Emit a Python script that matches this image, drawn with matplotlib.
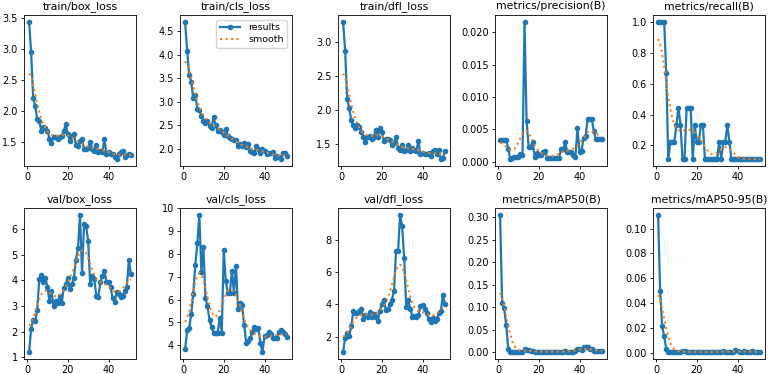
import numpy as np
import matplotlib
matplotlib.use('Agg')
import matplotlib.pyplot as plt

epochs = np.arange(1, 52)

titles = ['train/box_loss', 'train/cls_loss', 'train/dfl_loss', 'metrics/precision(B)', 'metrics/recall(B)',
          'val/box_loss', 'val/cls_loss', 'val/dfl_loss', 'metrics/mAP50(B)', 'metrics/mAP50-95(B)']

train_box_loss = [3.43, 2.94, 2.20, 2.08, 1.86, 1.83, 1.68, 1.73, 1.72, 1.68,
                  1.55, 1.48, 1.58, 1.58, 1.55, 1.58, 1.60, 1.68, 1.78, 1.62,
                  1.52, 1.60, 1.62, 1.45, 1.43, 1.52, 1.55, 1.38, 1.38, 1.40,
                  1.50, 1.38, 1.35, 1.45, 1.33, 1.35, 1.33, 1.55, 1.30, 1.33,
                  1.30, 1.30, 1.25, 1.22, 1.30, 1.33, 1.35, 1.25, 1.28, 1.30, 1.28]
train_cls_loss = [4.70, 4.09, 3.57, 3.43, 3.07, 3.15, 2.85, 2.82, 2.70, 2.60,
                  2.55, 2.60, 2.48, 2.45, 2.67, 2.50, 2.38, 2.40, 2.35, 2.30,
                  2.42, 2.28, 2.22, 2.20, 2.18, 2.18, 2.05, 2.10, 2.05, 2.12,
                  2.03, 2.10, 1.95, 1.93, 1.92, 2.05, 2.00, 1.92, 2.00, 1.95,
                  1.88, 1.90, 1.90, 1.93, 1.80, 1.85, 1.82, 1.78, 1.92, 1.90, 1.85]
train_dfl_loss = [3.29, 2.87, 2.16, 2.03, 1.85, 1.78, 1.73, 1.78, 1.75, 1.68,
                  1.60, 1.53, 1.60, 1.62, 1.58, 1.60, 1.70, 1.60, 1.73, 1.68,
                  1.55, 1.57, 1.58, 1.56, 1.48, 1.52, 1.60, 1.45, 1.42, 1.48,
                  1.40, 1.42, 1.48, 1.40, 1.45, 1.42, 1.40, 1.55, 1.35, 1.37,
                  1.35, 1.35, 1.37, 1.33, 1.40, 1.42, 1.35, 1.42, 1.28, 1.30, 1.40]
precision = [0.0033, 0.0033, 0.0033, 0.0033, 0.0020, 0.0004, 0.0006, 0.0007, 0.0007, 0.0008,
             0.0012, 0.0010, 0.0216, 0.0063, 0.0023, 0.0023, 0.0030, 0.0008, 0.0013, 0.0010,
             0.0011, 0.0015, 0.0017, 0.0006, 0.0006, 0.0006, 0.0006, 0.0006, 0.0006, 0.0006,
             0.0020, 0.0020, 0.0030, 0.0015, 0.0015, 0.0015, 0.0010, 0.0008, 0.0052, 0.0015,
             0.0017, 0.0037, 0.0040, 0.0066, 0.0066, 0.0066, 0.0048, 0.0035, 0.0035, 0.0035, 0.0035]
recall = [1.0, 1.0, 1.0, 1.0, 0.667, 0.111, 0.222, 0.222, 0.222, 0.333,
          0.444, 0.333, 0.111, 0.111, 0.444, 0.444, 0.444, 0.111, 0.333, 0.222,
          0.222, 0.333, 0.333, 0.111, 0.111, 0.111, 0.111, 0.111, 0.111, 0.111,
          0.222, 0.111, 0.222, 0.222, 0.333, 0.222, 0.111, 0.111, 0.111, 0.111,
          0.111, 0.111, 0.111, 0.111, 0.111, 0.111, 0.111, 0.111, 0.111, 0.111, 0.111]
val_box_loss = [1.20, 2.10, 2.45, 2.40, 2.85, 4.05, 4.20, 3.95, 4.10, 3.75,
                3.20, 3.60, 3.00, 3.20, 3.10, 3.40, 3.10, 3.70, 3.85, 4.10,
                3.65, 3.85, 4.10, 4.80, 5.25, 6.55, 4.30, 6.20, 6.10, 5.55,
                3.85, 4.15, 4.05, 3.40, 3.35, 3.95, 4.15, 4.35, 3.95, 3.95,
                3.75, 3.30, 3.15, 3.55, 3.45, 3.35, 3.40, 3.60, 3.75, 4.80, 4.25]
val_cls_loss = [3.82, 4.65, 4.75, 5.35, 6.25, 7.50, 8.45, 9.70, 7.20, 8.30,
                6.05, 5.70, 5.10, 4.80, 4.55, 4.55, 4.55, 5.20, 4.55, 8.15,
                6.80, 6.30, 6.30, 7.25, 6.30, 7.45, 5.60, 5.85, 5.75, 4.90,
                4.10, 4.20, 4.30, 4.60, 4.80, 4.70, 4.75, 4.10, 3.70, 4.40,
                4.45, 4.60, 4.50, 4.30, 4.30, 4.30, 4.60, 4.65, 4.60, 4.50, 4.35]
val_dfl_loss = [1.05, 1.95, 2.25, 2.05, 2.65, 3.60, 3.50, 3.45, 3.60, 3.70,
                3.10, 3.35, 3.20, 3.55, 3.25, 3.40, 3.25, 2.95, 3.60, 4.00,
                4.30, 3.65, 3.75, 4.00, 4.30, 4.85, 7.30, 7.30, 9.55, 8.85,
                6.85, 3.85, 4.25, 3.75, 3.25, 3.30, 3.20, 3.35, 3.90, 3.95,
                3.75, 3.50, 3.10, 2.90, 3.15, 3.00, 3.10, 3.45, 3.60, 4.60, 4.05]
map50 = [0.305, 0.110, 0.098, 0.060, 0.008, 0.000, 0.001, 0.001, 0.001, 0.001,
         0.001, 0.001, 0.006, 0.005, 0.004, 0.003, 0.002, 0.001, 0.001, 0.001,
         0.001, 0.001, 0.001, 0.001, 0.001, 0.001, 0.001, 0.001, 0.001, 0.001,
         0.001, 0.001, 0.002, 0.001, 0.001, 0.001, 0.001, 0.002, 0.007, 0.006,
         0.004, 0.011, 0.012, 0.011, 0.007, 0.007, 0.003, 0.002, 0.002, 0.002, 0.002]
map50_95 = [0.111, 0.050, 0.021, 0.013, 0.003, 0.0003, 0.0004, 0.0004, 0.0005, 0.0005,
            0.0005, 0.0006, 0.0015, 0.0010, 0.0006, 0.0005, 0.0004, 0.0004, 0.0004, 0.0004,
            0.0004, 0.0005, 0.0008, 0.0004, 0.0004, 0.0004, 0.0004, 0.0004, 0.0004, 0.0005,
            0.0005, 0.0006, 0.0012, 0.0005, 0.0005, 0.0004, 0.0004, 0.0006, 0.0020, 0.0010,
            0.0006, 0.0008, 0.0012, 0.0008, 0.0006, 0.0005, 0.0010, 0.0005, 0.0005, 0.0004, 0.0004]

series = [train_box_loss, train_cls_loss, train_dfl_loss, precision, recall,
          val_box_loss, val_cls_loss, val_dfl_loss, map50, map50_95]

yticks = [[1.5, 2.0, 2.5, 3.0, 3.5],
          [2.0, 2.5, 3.0, 3.5, 4.0, 4.5],
          [1.5, 2.0, 2.5, 3.0],
          [0.000, 0.005, 0.010, 0.015, 0.020],
          [0.2, 0.4, 0.6, 0.8, 1.0],
          [1, 2, 3, 4, 5, 6],
          [4, 5, 6, 7, 8, 9, 10],
          [2, 4, 6, 8],
          [0.00, 0.05, 0.10, 0.15, 0.20, 0.25, 0.30],
          [0.00, 0.02, 0.04, 0.06, 0.08, 0.10]]
yfmt = ['%.1f', '%.1f', '%.1f', '%.3f', '%.1f', '%d', '%d', '%d', '%.2f', '%.2f']


def smooth(y, sigma=3):
    # gaussian smoothing like scipy gaussian_filter1d (reflect mode)
    y = np.asarray(y, dtype=float)
    r = int(4 * sigma + 0.5)
    k = np.exp(-0.5 * (np.arange(-r, r + 1) / sigma) ** 2)
    k /= k.sum()
    yp = np.pad(y, r, mode='symmetric')
    return np.convolve(yp, k, mode='valid')


fig = plt.figure(figsize=(7.7, 3.74), dpi=100)
lefts = [24, 180, 338, 495, 653]
tops = [15, 208]
w, h = 112, 151

for i, (t, y) in enumerate(zip(titles, series)):
    row, col = divmod(i, 5)
    ax = fig.add_axes([lefts[col] / 770, (374 - tops[row] - h) / 374, w / 770, h / 374])
    ax.plot(epochs, y, marker='.', color='tab:blue', linewidth=1.6, markersize=6, label='results')
    ax.plot(epochs, smooth(y), ':', color='tab:orange', linewidth=1.5, label='smooth')
    ax.set_title(t, fontsize=7.8, pad=4)
    ax.set_xticks([0, 20, 40])
    ax.set_yticks(yticks[i])
    ax.set_yticklabels([yfmt[i] % v for v in yticks[i]])
    ax.tick_params(labelsize=7, length=2.5, width=0.6, pad=2)
    for s in ax.spines.values():
        s.set_linewidth(0.6)
    if i == 1:
        ax.legend(fontsize=6.8, loc='upper right', handlelength=2.2, borderpad=0.4, labelspacing=0.3)

fig.savefig('out.png', dpi=100)
